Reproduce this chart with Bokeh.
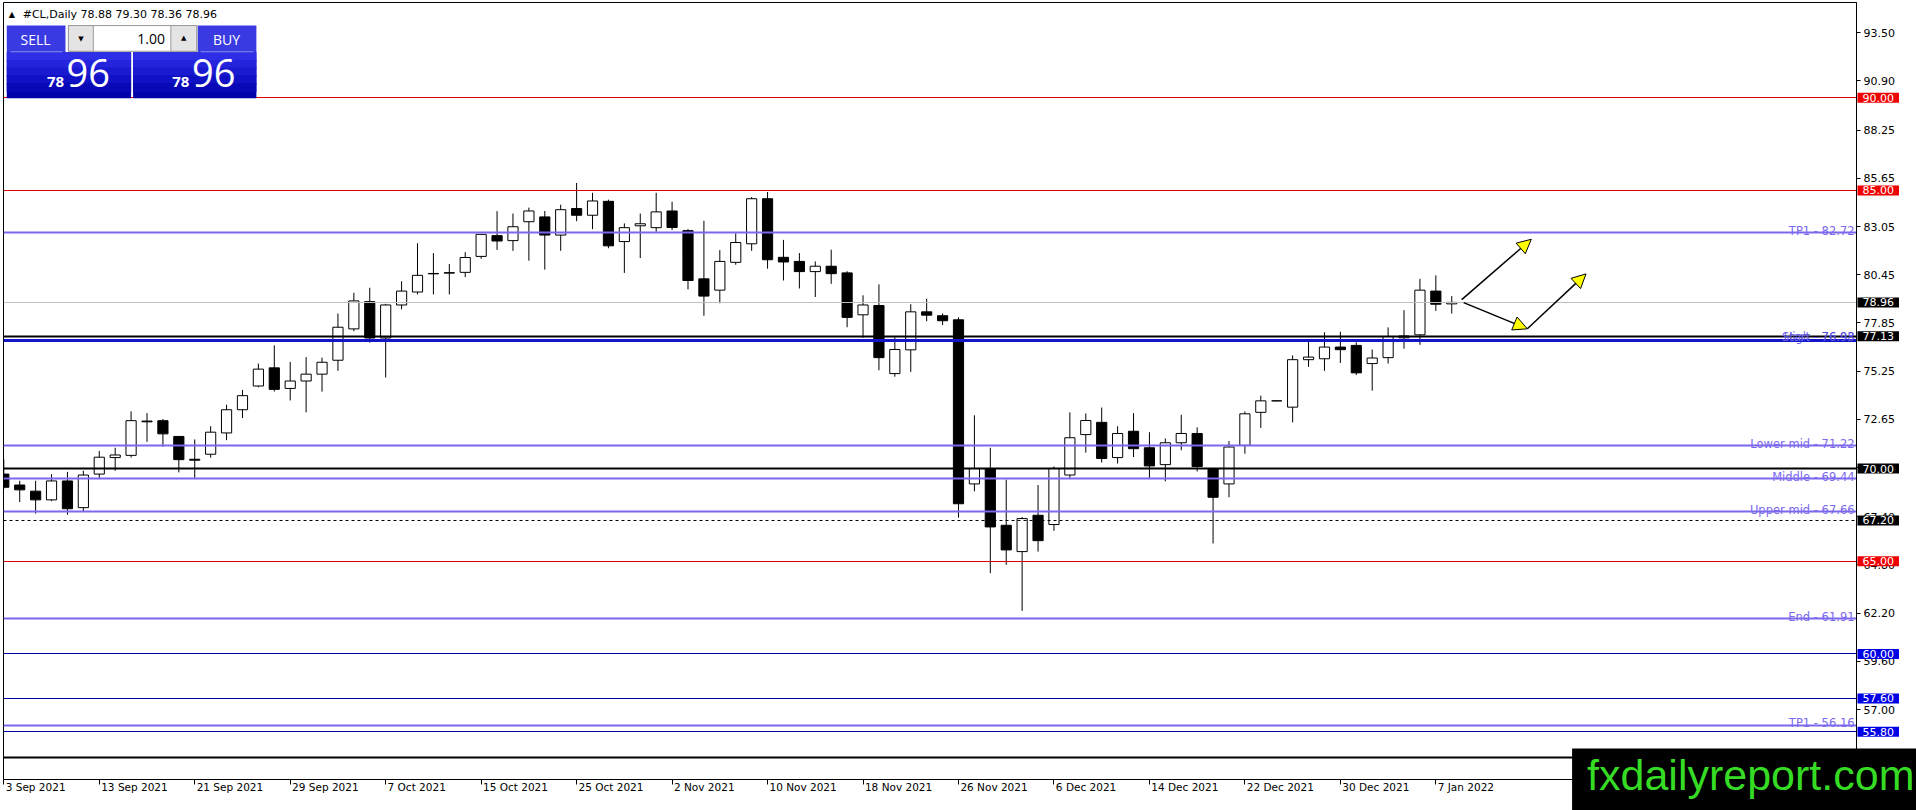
import pandas as pd
from bokeh.plotting import figure
from bokeh.models import (ColumnDataSource, Range1d, FixedTicker, Label, BoxAnnotation,
                          Arrow, NormalHead, NumeralTickFormatter)
from bokeh.embed import file_html
from bokeh.resources import INLINE

# ---------------- data ----------------
DATES = [f"{d.day} {d.strftime('%b %Y')}" for d in pd.bdate_range("2021-09-03", "2022-01-10")]

OPEN = [69.70, 69.11, 68.78, 68.31, 69.33, 67.89, 69.70, 70.59, 70.71, 72.56,
        72.58, 71.73, 70.50, 70.77, 71.92, 73.17, 74.45, 75.43, 74.32, 74.72,
        75.09, 75.84, 77.53, 79.00, 77.04, 78.82, 79.52, 80.52, 80.56, 80.58,
        81.44, 82.56, 82.29, 83.31, 83.57, 82.59, 84.02, 83.66, 84.41, 82.24,
        83.09, 82.99, 83.89, 82.83, 80.23, 79.62, 81.12, 82.12, 84.55, 81.39,
        81.17, 80.62, 80.91, 80.55, 78.29, 78.79, 75.12, 76.40, 78.45, 78.24,
        78.02, 69.17, 70.00, 66.94, 65.52, 67.48, 66.98, 69.65, 71.83, 72.49,
        70.59, 72.01, 71.12, 70.21, 71.39, 71.89, 70.00, 69.17, 71.25, 73.03,
        73.65, 73.31, 75.87, 75.92, 76.55, 76.64, 75.66, 75.98, 77.05, 77.21,
        79.57, 78.88]
HIGH = [70.50, 69.34, 69.34, 69.70, 69.82, 69.88, 70.95, 71.12, 73.08, 72.99,
        72.67, 71.75, 71.57, 72.28, 73.44, 74.24, 75.66, 76.64, 75.75, 76.01,
        75.98, 78.36, 79.48, 79.75, 78.88, 80.10, 82.15, 81.62, 81.03, 81.67,
        82.65, 83.88, 83.75, 84.07, 83.89, 84.23, 85.40, 84.87, 84.50, 83.22,
        83.75, 84.87, 84.39, 82.92, 83.36, 81.78, 82.68, 84.64, 84.91, 82.33,
        81.62, 81.17, 81.80, 80.64, 79.34, 79.93, 77.08, 78.86, 79.16, 78.36,
        78.15, 72.87, 71.12, 69.40, 67.39, 69.11, 70.11, 73.03, 72.97, 73.29,
        72.28, 72.99, 71.96, 71.62, 72.90, 72.22, 70.02, 71.48, 73.08, 73.93,
        73.67, 76.10, 76.85, 77.35, 77.38, 76.81, 76.42, 77.61, 78.54, 80.23,
        80.42, 79.30]
LOW = [68.90, 68.19, 67.57, 68.24, 67.51, 67.69, 69.43, 69.88, 70.59, 71.44,
       71.18, 69.79, 69.43, 70.59, 71.53, 72.72, 74.38, 74.15, 73.67, 73.03,
       74.15, 75.27, 77.40, 76.79, 74.91, 78.59, 79.39, 79.39, 79.39, 80.32,
       81.31, 81.79, 81.74, 81.21, 80.73, 81.74, 83.34, 82.91, 81.88, 80.55,
       81.35, 82.77, 82.86, 79.66, 78.24, 78.91, 80.99, 81.74, 80.78, 80.14,
       79.71, 79.25, 79.96, 77.62, 77.05, 75.30, 74.95, 75.21, 77.94, 77.74,
       67.35, 68.77, 64.36, 64.81, 62.32, 65.52, 66.64, 69.43, 70.86, 70.32,
       70.27, 70.62, 69.43, 69.31, 70.98, 69.84, 65.96, 68.45, 70.80, 72.19,
       73.63, 72.49, 75.48, 75.27, 75.69, 75.04, 74.20, 75.66, 76.46, 76.67,
       78.50, 78.36]
CLOSE = [68.99, 68.85, 68.31, 69.33, 67.83, 69.65, 70.61, 70.73, 72.58, 72.52,
         71.87, 70.48, 70.45, 71.96, 73.17, 73.93, 75.36, 74.27, 74.72, 75.09,
         75.73, 77.62, 79.04, 77.04, 78.82, 79.57, 80.42, 80.50, 80.54, 81.38,
         82.63, 82.27, 83.04, 83.89, 82.59, 83.96, 83.66, 84.43, 82.01, 82.99,
         83.20, 83.84, 83.00, 80.14, 79.30, 81.17, 82.19, 84.55, 81.26, 81.14,
         80.62, 80.91, 80.51, 78.15, 78.82, 75.98, 76.42, 78.45, 78.27, 77.97,
         68.10, 70.00, 66.85, 65.61, 67.30, 66.11, 70.00, 71.66, 72.59, 70.54,
         71.89, 71.07, 70.14, 71.39, 71.89, 70.11, 68.45, 71.16, 72.95, 73.65,
         73.65, 75.87, 76.01, 76.55, 76.41, 75.16, 75.96, 77.12, 77.15, 79.62,
         78.86, 78.96]

TICK_LABELS = ["3 Sep 2021", "13 Sep 2021", "21 Sep 2021", "29 Sep 2021", "7 Oct 2021",
               "15 Oct 2021", "25 Oct 2021", "2 Nov 2021", "10 Nov 2021", "18 Nov 2021",
               "26 Nov 2021", "6 Dec 2021", "14 Dec 2021", "22 Dec 2021", "30 Dec 2021",
               "7 Jan 2022"]
PRICE_TICKS = [93.50, 90.90, 88.25, 85.65, 83.05, 80.45, 77.85, 75.25, 72.65, 70.05,
               67.40, 64.80, 62.20, 59.60, 57.00, 54.40]

RED_LEVELS = [90.00, 85.00, 65.00]
BLUE_LEVELS = [60.00, 57.60, 55.80]
BLACK_LEVELS = [77.13, 70.00, 54.40]
DASH_LEVEL = 67.20
BID = 78.96
FIB_NAMES = ["TP1", "Lower mid", "Middle", "Upper mid", "End", "TP1"]
FIB_LEVELS = [82.72, 71.22, 69.44, 67.66, 61.91, 56.16]
START_LEVEL = 76.93
HIGH_LEVEL = 76.98
BOX_LEVELS = [90.00, 85.00, BID, 77.13, 70.00, DASH_LEVEL, 65.00, 60.00, 57.60, 55.80]
BOX_KIND = ["red", "red", "black", "black", "black", "black", "red", "blue", "blue", "blue"]
SYMBOL = "#CL,Daily"
LOT = "1.00"

# ---------------- helpers: reference pixel -> data space ----------------
def X(px):
    return (px - 3.0) / 16.0

def Y(py):
    return 93.50 - (py - 32.3) * 0.05336

FONT = "DejaVu Sans"
PURPLE = "#7b68ee"
RED = "#e00000"
BOXCOL = {"red": "#f00000", "black": "#000000", "blue": "#0000e6"}

idx = list(range(len(DATES)))
top = [max(o, c) for o, c in zip(OPEN, CLOSE)]
bot = [min(o, c) for o, c in zip(OPEN, CLOSE)]
fill = ["white" if c >= o else "black" for o, c in zip(OPEN, CLOSE)]
src = ColumnDataSource(dict(x=idx, open=OPEN, high=HIGH, low=LOW, close=CLOSE,
                            top=top, bottom=bot, fill=fill, date=DATES))

p = figure(frame_width=1853, frame_height=777,
           x_range=Range1d(X(2.7), X(1866)), y_range=Range1d(Y(787), Y(1.7)),
           y_axis_location="right", output_backend="svg", toolbar_location=None,
           min_border_left=3, min_border_top=2, min_border_right=44, min_border_bottom=15,
           background_fill_color="white", border_fill_color="white")
p.outline_line_color = "black"
p.outline_line_width = 1
p.xgrid.visible = False
p.ygrid.visible = False

# axes
p.yaxis.ticker = FixedTicker(ticks=PRICE_TICKS)
p.yaxis.formatter = NumeralTickFormatter(format="0.00")
p.yaxis.major_tick_out = 4
p.yaxis.major_tick_in = 0
p.yaxis.minor_tick_line_color = None
p.yaxis.axis_line_color = "black"
p.yaxis.major_tick_line_color = "black"
p.yaxis.major_label_text_font = FONT
p.yaxis.major_label_text_font_size = "11px"
p.yaxis.major_label_text_color = "black"
p.yaxis.major_label_standoff = 3

tick_idx = [DATES.index(t) for t in TICK_LABELS]
p.xaxis.ticker = FixedTicker(ticks=tick_idx)
p.xaxis.major_tick_out = 5
p.xaxis.major_tick_in = 0
p.xaxis.minor_tick_line_color = None
p.xaxis.axis_line_color = "black"
p.xaxis.major_tick_line_color = "black"
p.xaxis.major_label_text_color = None
p.xaxis.major_label_text_font_size = "1px"
p.xaxis.major_label_standoff = 0

# candles
p.segment(x0="x", y0="low", x1="x", y1="high", line_color="black", line_width=1, source=src)
p.vbar(x="x", width=0.64, top="top", bottom="bottom", fill_color="fill",
       line_color="black", line_width=1, source=src)

# horizontal levels (drawn above candles, as in the terminal)
p.hspan(y=[BID], line_color="#c0c0c0", line_width=1)
p.hspan(y=RED_LEVELS, line_color=RED, line_width=1)
p.hspan(y=BLUE_LEVELS, line_color="#0000a0", line_width=1)
p.hspan(y=FIB_LEVELS, line_color=PURPLE, line_width=2.2)
p.hspan(y=[START_LEVEL], line_color="#1414c8", line_width=3)
p.hspan(y=BLACK_LEVELS, line_color="black", line_width=2)
p.hspan(y=[DASH_LEVEL], line_color="black", line_width=1, line_dash="3 3")

# level texts
for name, lvl in zip(FIB_NAMES, FIB_LEVELS):
    p.add_layout(Label(x=X(1864), y=lvl + 0.09, text=f"{name} - {lvl:.2f}",
                       text_align="right", text_baseline="alphabetic",
                       text_color=PURPLE, text_font=FONT, text_font_size="11.5px"))
p.add_layout(Label(x=X(1864), y=START_LEVEL + 0.17, text=f"Start - {START_LEVEL:.2f}",
                   text_align="right", text_baseline="alphabetic",
                   text_color=PURPLE, text_font=FONT, text_font_size="11.5px"))
p.add_layout(Label(x=X(1864), y=HIGH_LEVEL + 0.14, text=f"High - {HIGH_LEVEL:.2f}",
                   text_align="right", text_baseline="alphabetic",
                   text_color="#4646d8", text_font=FONT, text_font_size="11.5px", text_alpha=0.8))

# price boxes on the scale (placed in the right panel so they are not clipped)
for lvl, kind in zip(BOX_LEVELS, BOX_KIND):
    p.add_layout(Label(x=X(1867), y=lvl, text=f"{lvl:.2f}", text_align="left",
                       text_baseline="middle", text_color="white", text_font=FONT,
                       text_font_size="11px", background_fill_color=BOXCOL[kind],
                       padding=dict(left=5, right=5, top=1, bottom=1)), "right")

# date labels (left aligned at their ticks)
for t, lab in zip(tick_idx, TICK_LABELS):
    p.add_layout(Label(x=t + 0.12, y=Y(789), text=lab, text_align="left",
                       text_baseline="top", text_color="black", text_font=FONT,
                       text_font_size="10.5px"), "below")

# arrows
head = dict(size=14, fill_color="#ffff00", line_color="black", line_width=1)
p.add_layout(Arrow(end=NormalHead(**head), x_start=X(1469), y_start=Y(302),
                   x_end=X(1539), y_end=Y(241), line_color="black", line_width=1.5))
p.add_layout(Arrow(end=NormalHead(**head), x_start=X(1471), y_start=Y(305),
                   x_end=X(1535), y_end=Y(331.5), line_color="black", line_width=1.5))
p.add_layout(Arrow(end=NormalHead(**head), x_start=X(1535), y_start=Y(331.5),
                   x_end=X(1594), y_end=Y(276), line_color="black", line_width=1.5))

# trade panel
def box(x0, x1, y0, y1, color, line=None):
    p.add_layout(BoxAnnotation(left=X(x0), right=X(x1), top=Y(y0), bottom=Y(y1),
                               fill_color=color, fill_alpha=1.0,
                               line_color=line, line_alpha=1.0 if line else 0.0))

box(6, 65, 25, 52, "#3a3ae2")
box(198, 257, 25, 52, "#3a3ae2")
box(68, 197, 25, 51, "white", "#9a9a9a")
box(68, 93, 25, 51, "#e4e4e4", "#9a9a9a")
box(171, 197, 25, 51, "#e4e4e4", "#9a9a9a")
grad = ["#2e2ee6", "#2424dc", "#1a1ad0", "#1010c4", "#0808b6", "#0202a8"]
box(6, 131, 52, 98.5, grad[-1])
box(133, 257, 52, 98.5, grad[-1])
for k, col in enumerate(grad[:-1]):
    ya = 52 + k * 46.5 / len(grad)
    yb = 52 + (k + 1) * 46.5 / len(grad) + 1.5
    box(6, 131, ya, yb, col)
    box(133, 257, ya, yb, col)
box(10, 62, 51, 52, "#8c8cf0")
box(201, 254, 51, 52, "#8c8cf0")

PF = "Open Sans"
def lab(x, y, text, size, color="white", align="center", base="middle", style="normal", font=PF):
    p.add_layout(Label(x=X(x), y=Y(y), text=text, text_align=align, text_baseline=base,
                       text_color=color, text_font=font, text_font_size=size,
                       text_font_style=style))

bid_big = f"{BID:.2f}"
lab(35, 39, "SELL", "14px")
lab(227, 39, "BUY", "14px")
lab(165, 38.5, LOT, "14px", color="black", align="right")
lab(80.5, 39, "\u25bc", "7px", color="black", font=FONT)
lab(184, 38, "\u25b2", "7px", color="black", font=FONT)
lab(55, 82, bid_big[:2], "15px", style="bold")
lab(88, 73, bid_big[3:], "38px")
lab(181, 82, bid_big[:2], "15px", style="bold")
lab(214, 73, bid_big[3:], "38px")

# header
lab(11, 13.5, "\u25b2", "8px", color="black", font=FONT)
lab(22, 13.5, f"{SYMBOL}  {OPEN[-1]:.2f} {HIGH[-1]:.2f} {LOW[-1]:.2f} {CLOSE[-1]:.2f}",
    "11px", color="black", align="left", font=FONT)

# watermark
p.add_layout(Label(x=X(1580), y=Y(788), text="fxdailyreport.com", text_align="left",
                   text_baseline="alphabetic", text_color="#36dc24",
                   text_font="Liberation Sans", text_font_size="43px",
                   background_fill_color="black",
                   padding=dict(left=15, right=14, top=3, bottom=13)), "right")

open("out.html", "w").write(file_html(p, INLINE))
